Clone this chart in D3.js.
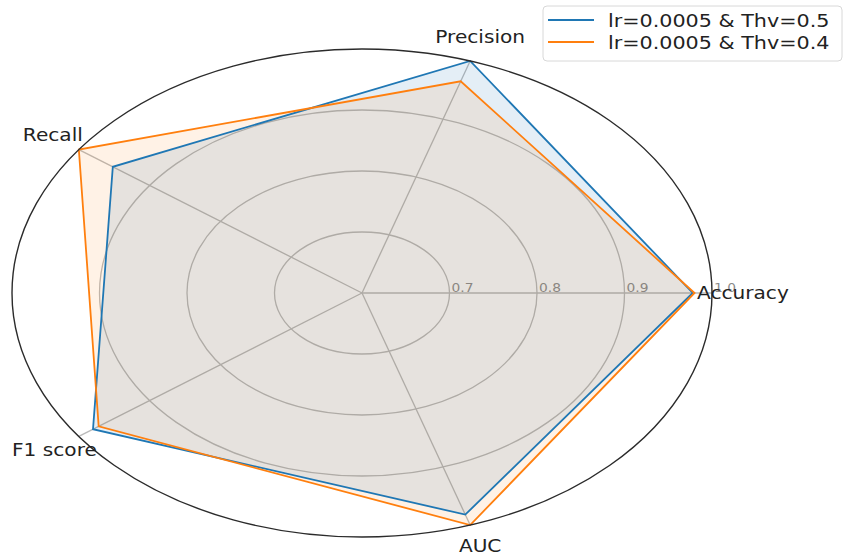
<!DOCTYPE html>
<html>
<head>
<meta charset="utf-8">
<script src="https://cdn.jsdelivr.net/npm/d3@7"></script>
<style>
  html, body { margin: 0; padding: 0; background: #fff; }
  svg { display: block; font-family: "DejaVu Sans", sans-serif; }
</style>
</head>
<body>
<svg id="chart" width="845" height="556"></svg>
<script>
// Metrics on the radar axes (counter-clockwise from the right)
const categories = ["Accuracy", "Precision", "Recall", "F1 score", "AUC"];
const seriesNames = ["lr=0.0005 & Thv=0.5", "lr=0.0005 & Thv=0.4"];
const thv05 = [0.978, 1.0, 0.952, 0.980, 0.982];
const thv04 = [0.980, 0.965, 1.0, 0.972, 1.0];
const radialTicks = [0.7, 0.8, 0.9, 1.0];
const tickLabels = ["0.7", "0.8", "0.9", "1.0"];

const colors = ["#1f77b4", "#ff7f0e"];
const fillOpacity = [0.12, 0.1];
const seriesValues = [thv05, thv04];

const svg = d3.select("#chart");
const cx = 362, cy = 293;
const rx = 350, ry = 244;          // axes are drawn stretched horizontally
const stretch = 1.15;              // horizontal stretch of the text

// radial value -> fraction of the outer radius
const r = d3.scaleLinear().domain([0.6, 1.0]).range([0, 1]);
// category index -> angle (radians, counter-clockwise from 3 o'clock)
const angle = d3.scaleLinear().domain([0, categories.length]).range([0, 2 * Math.PI]);

const px = (i, v) => cx + rx * r(v) * Math.cos(angle(i));
const py = (i, v) => cy - ry * r(v) * Math.sin(angle(i));

const grid = svg.append("g");

// concentric gridlines
grid.selectAll("ellipse.ring")
  .data(radialTicks.filter(t => t < 1.0))
  .join("ellipse")
  .attr("cx", cx).attr("cy", cy)
  .attr("rx", d => rx * r(d)).attr("ry", d => ry * r(d))
  .attr("fill", "none").attr("stroke", "#b9b9b9").attr("stroke-width", 1.3);

// spokes
grid.selectAll("line.spoke")
  .data(categories)
  .join("line")
  .attr("x1", cx).attr("y1", cy)
  .attr("x2", (d, i) => px(i, 1.0)).attr("y2", (d, i) => py(i, 1.0))
  .attr("stroke", "#b9b9b9").attr("stroke-width", 1.3);

// radial tick labels along the Accuracy axis
grid.selectAll("text.tick")
  .data(radialTicks)
  .join("text")
  .attr("transform", d => `translate(${cx + rx * r(d) + 2},${cy - 1}) scale(${stretch},1)`)
  .attr("font-size", 12)
  .attr("fill", "#8a8a8a")
  .text((d, i) => tickLabels[i]);

// series polygons
const polyGen = vals => vals.map((v, i) => [px(i, v), py(i, v)]);
const line = d3.line().curve(d3.curveLinearClosed);

const series = svg.append("g");
seriesValues.forEach((vals, k) => {
  series.append("path")
    .attr("d", line(polyGen(vals)))
    .attr("fill", colors[k]).attr("fill-opacity", fillOpacity[k])
    .attr("stroke", "none");
});
seriesValues.forEach((vals, k) => {
  series.append("path")
    .attr("d", line(polyGen(vals)))
    .attr("fill", "none")
    .attr("stroke", colors[k]).attr("stroke-width", 1.8)
    .attr("stroke-linejoin", "miter");
});

// outer frame
svg.append("ellipse")
  .attr("cx", cx).attr("cy", cy).attr("rx", rx).attr("ry", ry)
  .attr("fill", "none").attr("stroke", "#2b2b2b").attr("stroke-width", 1.4);

// category labels, offset from the frame point of each axis
const labelPlacement = [
  { dx: -15, dy: 6, anchor: "start" },
  { dx: 10, dy: -18, anchor: "middle" },
  { dx: 4, dy: -9, anchor: "end" },
  { dx: 18, dy: 20, anchor: "end" },
  { dx: 10, dy: 27, anchor: "middle" }
];
svg.append("g").selectAll("text")
  .data(categories)
  .join("text")
  .attr("transform", (d, i) =>
    `translate(${px(i, 1.0) + labelPlacement[i].dx},${py(i, 1.0) + labelPlacement[i].dy}) scale(${stretch},1)`)
  .attr("text-anchor", (d, i) => labelPlacement[i].anchor)
  .attr("font-size", 17.5)
  .attr("fill", "#222")
  .text(d => d);

// legend
const legend = svg.append("g").attr("transform", "translate(543,6)");
legend.append("rect")
  .attr("x", 0).attr("y", 0).attr("width", 299).attr("height", 55)
  .attr("rx", 4).attr("fill", "#fff").attr("fill-opacity", 0.85)
  .attr("stroke", "#d8d8d8").attr("stroke-width", 1);
const items = legend.selectAll("g.item")
  .data(seriesNames)
  .join("g")
  .attr("transform", (d, i) => `translate(0,${14 + i * 22})`);
items.append("line")
  .attr("x1", 5).attr("x2", 51).attr("y1", 0).attr("y2", 0)
  .attr("stroke", (d, i) => colors[i]).attr("stroke-width", 1.8);
items.append("text")
  .attr("transform", `translate(65,7) scale(${stretch},1)`)
  .attr("font-size", 18)
  .attr("fill", "#222")
  .text(d => d);
</script>
</body>
</html>
